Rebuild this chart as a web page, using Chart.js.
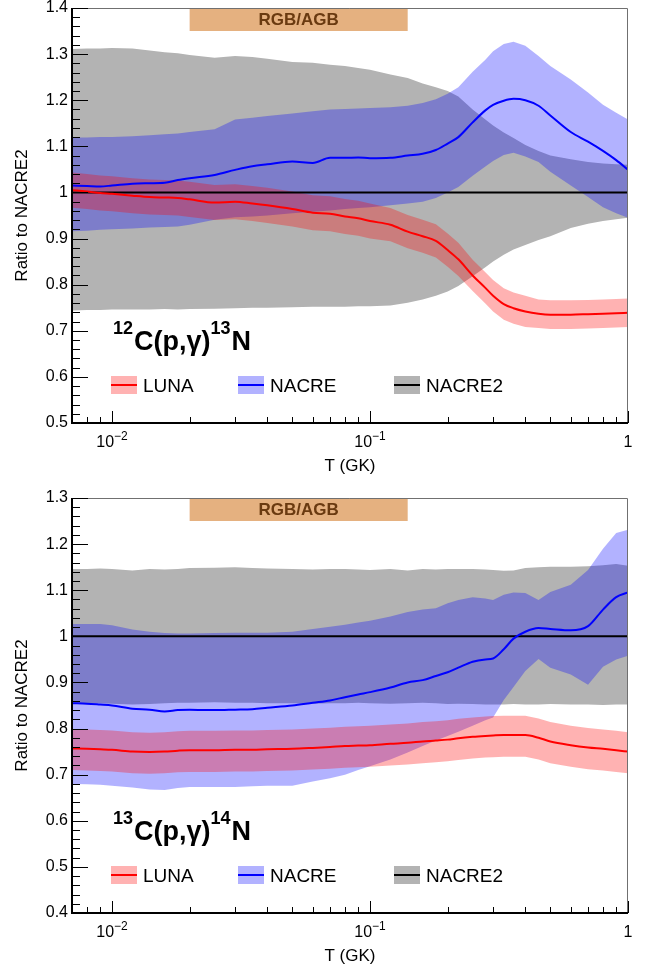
<!DOCTYPE html>
<html>
<head>
<meta charset="utf-8">
<script src="https://cdn.jsdelivr.net/npm/chart.js@4.4.1/dist/chart.umd.min.js"></script>
<style>
  html, body { margin: 0; padding: 0; background: #fff; }
  .panel { width: 646px; height: 484px; }
  canvas { display: block; }
</style>
</head>
<body>
<div class="panel"><canvas id="c12" width="646" height="484"></canvas></div>
<div class="panel"><canvas id="c13" width="646" height="484"></canvas></div>
<script>
// temperature grid (GK) shared by every band and curve
const temps = [0.007, 0.008, 0.009, 0.01, 0.012, 0.014, 0.016, 0.018, 0.02, 0.025,
  0.03, 0.035, 0.04, 0.05, 0.06, 0.07, 0.08, 0.09, 0.1, 0.12,
  0.14, 0.16, 0.18, 0.2, 0.22, 0.25, 0.28, 0.3, 0.33, 0.36,
  0.4, 0.45, 0.5, 0.6, 0.7, 0.8, 0.9, 1.0];

// 12C(p,g)13N  -- ratios to NACRE2
const c12LunaMid = [1.005, 1.002, 0.999, 0.997, 0.993, 0.990, 0.989, 0.988, 0.985, 0.978,
  0.980, 0.976, 0.972, 0.964, 0.956, 0.954, 0.948, 0.944, 0.938, 0.930,
  0.915, 0.905, 0.895, 0.875, 0.855, 0.820, 0.793, 0.776, 0.758, 0.749,
  0.742, 0.737, 0.735, 0.735, 0.736, 0.737, 0.738, 0.739];
const c12LunaHi = [1.043, 1.040, 1.037, 1.035, 1.031, 1.028, 1.027, 1.026, 1.023, 1.016,
  1.018, 1.014, 1.010, 1.002, 0.994, 0.992, 0.986, 0.982, 0.976, 0.966,
  0.951, 0.941, 0.931, 0.911, 0.891, 0.854, 0.827, 0.810, 0.792, 0.783,
  0.776, 0.768, 0.766, 0.766, 0.767, 0.768, 0.769, 0.770];
const c12LunaLo = [0.967, 0.964, 0.961, 0.959, 0.955, 0.952, 0.951, 0.950, 0.947, 0.940,
  0.942, 0.938, 0.934, 0.926, 0.918, 0.916, 0.910, 0.906, 0.900, 0.894,
  0.879, 0.869, 0.859, 0.839, 0.819, 0.786, 0.759, 0.742, 0.724, 0.715,
  0.708, 0.706, 0.704, 0.704, 0.705, 0.706, 0.707, 0.708];
const c12NacreMid = [1.015, 1.014, 1.013, 1.015, 1.019, 1.020, 1.021, 1.027, 1.031, 1.038,
  1.049, 1.057, 1.061, 1.067, 1.064, 1.075, 1.075, 1.076, 1.074, 1.075,
  1.080, 1.084, 1.092, 1.106, 1.120, 1.152, 1.178, 1.190, 1.199, 1.203,
  1.200, 1.188, 1.167, 1.131, 1.110, 1.090, 1.070, 1.049];
const c12NacreHi = [1.119, 1.119, 1.120, 1.120, 1.122, 1.124, 1.126, 1.128, 1.131, 1.137,
  1.158, 1.162, 1.166, 1.171, 1.176, 1.180, 1.181, 1.182, 1.183, 1.185,
  1.188, 1.194, 1.202, 1.214, 1.228, 1.262, 1.288, 1.306, 1.322, 1.327,
  1.318, 1.296, 1.274, 1.245, 1.217, 1.190, 1.173, 1.158];
const c12NacreLo = [0.916, 0.917, 0.919, 0.920, 0.922, 0.924, 0.925, 0.926, 0.930, 0.941,
  0.946, 0.948, 0.950, 0.955, 0.958, 0.961, 0.964, 0.966, 0.968, 0.972,
  0.976, 0.980, 0.988, 1.000, 1.012, 1.036, 1.056, 1.068, 1.081, 1.086,
  1.078, 1.066, 1.045, 1.015, 0.990, 0.968, 0.955, 0.945];
const c12Nacre2Hi = [1.311, 1.312, 1.312, 1.313, 1.312, 1.308, 1.304, 1.302, 1.298, 1.292,
  1.296, 1.294, 1.290, 1.283, 1.281, 1.277, 1.274, 1.270, 1.266, 1.256,
  1.248, 1.236, 1.228, 1.220, 1.208, 1.180, 1.158, 1.145, 1.130, 1.118,
  1.103, 1.090, 1.080, 1.072, 1.066, 1.063, 1.061, 1.060];
const c12Nacre2Lo = [0.744, 0.745, 0.745, 0.746, 0.746, 0.746, 0.747, 0.746, 0.747, 0.748,
  0.749, 0.750, 0.750, 0.751, 0.752, 0.752, 0.752, 0.753, 0.753, 0.755,
  0.761, 0.768, 0.776, 0.785, 0.797, 0.818, 0.838, 0.850, 0.865, 0.876,
  0.886, 0.897, 0.905, 0.923, 0.932, 0.938, 0.942, 0.945];

// 13C(p,g)14N  -- ratios to NACRE2
const c13LunaMid = [0.757, 0.756, 0.755, 0.754, 0.750, 0.749, 0.750, 0.752, 0.753, 0.753,
  0.754, 0.754, 0.755, 0.756, 0.758, 0.760, 0.762, 0.763, 0.764, 0.767,
  0.769, 0.772, 0.774, 0.776, 0.779, 0.782, 0.784, 0.785, 0.786, 0.786,
  0.786, 0.780, 0.772, 0.764, 0.759, 0.756, 0.753, 0.750];
const c13LunaHi = [0.799, 0.798, 0.797, 0.796, 0.792, 0.791, 0.792, 0.794, 0.795, 0.795,
  0.796, 0.796, 0.797, 0.798, 0.800, 0.802, 0.804, 0.805, 0.806, 0.809,
  0.811, 0.814, 0.816, 0.818, 0.821, 0.824, 0.826, 0.827, 0.828, 0.828,
  0.828, 0.822, 0.814, 0.806, 0.801, 0.798, 0.795, 0.792];
const c13LunaLo = [0.710, 0.709, 0.708, 0.707, 0.703, 0.702, 0.703, 0.705, 0.706, 0.706,
  0.707, 0.707, 0.708, 0.709, 0.711, 0.713, 0.715, 0.716, 0.717, 0.720,
  0.722, 0.725, 0.727, 0.729, 0.732, 0.735, 0.737, 0.738, 0.739, 0.739,
  0.739, 0.733, 0.725, 0.717, 0.712, 0.709, 0.706, 0.703];
const c13NacreMid = [0.855, 0.854, 0.852, 0.850, 0.843, 0.841, 0.837, 0.840, 0.841, 0.840,
  0.841, 0.842, 0.845, 0.850, 0.856, 0.861, 0.868, 0.874, 0.879, 0.889,
  0.900, 0.905, 0.914, 0.922, 0.932, 0.945, 0.950, 0.952, 0.972, 0.995,
  1.010, 1.018, 1.016, 1.013, 1.022, 1.058, 1.085, 1.095];
const c13NacreHi = [1.027, 1.027, 1.027, 1.024, 1.015, 1.010, 1.007, 1.006, 1.006, 1.007,
  1.008, 1.008, 1.008, 1.010, 1.016, 1.021, 1.025, 1.030, 1.034, 1.043,
  1.053, 1.058, 1.061, 1.072, 1.079, 1.085, 1.082, 1.079, 1.090, 1.095,
  1.094, 1.079, 1.096, 1.112, 1.144, 1.190, 1.224, 1.231];
const c13NacreLo = [0.680, 0.679, 0.678, 0.676, 0.672, 0.668, 0.667, 0.671, 0.673, 0.673,
  0.673, 0.675, 0.676, 0.676, 0.685, 0.692, 0.700, 0.710, 0.718, 0.733,
  0.748, 0.762, 0.774, 0.784, 0.793, 0.806, 0.818, 0.824, 0.862, 0.890,
  0.925, 0.951, 0.932, 0.917, 0.895, 0.934, 0.950, 0.958];
const c13Nacre2Hi = [1.146, 1.146, 1.147, 1.146, 1.143, 1.146, 1.145, 1.146, 1.148, 1.149,
  1.150, 1.148, 1.147, 1.146, 1.145, 1.146, 1.146, 1.145, 1.144, 1.146,
  1.143, 1.146, 1.145, 1.146, 1.146, 1.146, 1.145, 1.144, 1.142, 1.143,
  1.148, 1.150, 1.151, 1.151, 1.152, 1.154, 1.157, 1.153];
const c13Nacre2Lo = [0.855, 0.855, 0.855, 0.854, 0.852, 0.853, 0.855, 0.856, 0.856, 0.857,
  0.856, 0.856, 0.855, 0.855, 0.854, 0.855, 0.855, 0.856, 0.855, 0.854,
  0.855, 0.856, 0.855, 0.853, 0.854, 0.853, 0.852, 0.852, 0.852, 0.853,
  0.852, 0.852, 0.853, 0.852, 0.852, 0.851, 0.852, 0.852];

// NACRE2 reference line (ratio of NACRE2 to itself)
const nacre2T = [0.007, 1.0];
const nacre2Ratio = [1, 1];

// RGB/AGB temperature window (GK)
const rgbAgbRange = [0.02, 0.14];

// axis labels: base and exponent of the major log ticks
const xMajor = [0.01, 0.1, 1];
const xLabelBase = ['10', '10', '1'];
const xLabelExp = ['\u22122', '\u22121', ''];
const legendNames = ['LUNA', 'NACRE', 'NACRE2'];

Chart.defaults.font.family = '"Liberation Sans", Arial, Helvetica, sans-serif';
Chart.defaults.color = '#000';

const FONT = '"Liberation Sans", Arial, Helvetica, sans-serif';
const BAND = ['rgba(255,0,0,0.3)', 'rgba(0,0,255,0.3)', '#b3b3b3'];
const LINE = ['#ff0000', '#0000ff', '#000000'];

function pts(vals) {
  return temps.map((t, i) => ({ x: t, y: vals[i] }));
}

function edge(vals, order, fill, bg) {
  return {
    data: pts(vals), borderColor: 'transparent', borderWidth: 0, pointRadius: 0,
    fill: fill, backgroundColor: bg || 'transparent', order: order, tension: 0
  };
}

function curve(data, color, order) {
  return {
    data: data, borderColor: color, borderWidth: 2, pointRadius: 0, fill: false,
    order: order, cubicInterpolationMode: 'monotone'
  };
}

// ROOT-style decorations: frame, inner ticks, log labels, RGB/AGB tag, legend, reaction label
const rootDecor = {
  id: 'rootDecor',
  afterDraw(chart, args, opts) {
    const { ctx, chartArea: a, scales: { x, y } } = chart;
    ctx.save();

    // RGB/AGB window
    const x0 = x.getPixelForValue(rgbAgbRange[0]);
    const x1 = x.getPixelForValue(rgbAgbRange[1]);
    ctx.fillStyle = '#e5b180';
    ctx.fillRect(x0, a.top, x1 - x0, 23);
    ctx.fillStyle = '#6a3a10';
    ctx.font = 'bold 17px ' + FONT;
    ctx.textAlign = 'center';
    ctx.textBaseline = 'middle';
    ctx.fillText('RGB/AGB', (x0 + x1) / 2, a.top + 12);

    // frame
    ctx.strokeStyle = '#707070';
    ctx.lineWidth = 1;
    ctx.beginPath();
    ctx.moveTo(a.left, a.top + 0.5);
    ctx.lineTo(a.right - 0.5, a.top + 0.5);
    ctx.lineTo(a.right - 0.5, a.bottom);
    ctx.stroke();

    ctx.strokeStyle = '#000';
    ctx.lineWidth = 2;
    ctx.beginPath();
    ctx.moveTo(a.left, a.top);
    ctx.lineTo(a.left, a.bottom);
    ctx.lineTo(a.right, a.bottom);
    ctx.stroke();

    // y ticks (major 0.1, minor 0.02)
    ctx.lineWidth = 1;
    ctx.beginPath();
    for (let k = 0; ; k++) {
      const v = y.min + k * 0.02;
      if (v > y.max + 1e-9) break;
      const py = Math.round(y.getPixelForValue(v)) + 0.5;
      const len = k % 5 === 0 ? 16 : 8;
      ctx.moveTo(a.left, py);
      ctx.lineTo(a.left + len, py);
    }
    // x ticks (log decades)
    for (let d = -3; d <= 0; d++) {
      for (let m = 1; m <= 9; m++) {
        const v = m * Math.pow(10, d);
        if (v < x.min * 1.0001 || v > x.max * 1.0001) continue;
        const px = Math.round(x.getPixelForValue(v)) + 0.5;
        const len = m === 1 ? 12 : 6;
        ctx.moveTo(px, a.bottom);
        ctx.lineTo(px, a.bottom - len);
      }
    }
    ctx.stroke();

    // x tick labels with superscript exponents
    ctx.fillStyle = '#000';
    ctx.textAlign = 'left';
    ctx.textBaseline = 'alphabetic';
    xMajor.forEach((v, i) => {
      ctx.font = '16px ' + FONT;
      const wb = ctx.measureText(xLabelBase[i]).width;
      ctx.font = '12px ' + FONT;
      const we = xLabelExp[i] ? ctx.measureText(xLabelExp[i]).width : 0;
      const px = x.getPixelForValue(v);
      const sx = px - (wb + we) / 2;
      ctx.font = '16px ' + FONT;
      ctx.fillText(xLabelBase[i], sx, a.bottom + 24);
      if (xLabelExp[i]) {
        ctx.font = '12px ' + FONT;
        ctx.fillText(xLabelExp[i], sx + wb, a.bottom + 17);
      }
    });

    // legend
    const lx = [a.left + 39, a.left + 166, a.left + 322];
    const ly = a.bottom - 47;
    ctx.font = '19px ' + FONT;
    legendNames.forEach((name, i) => {
      ctx.fillStyle = BAND[i];
      ctx.fillRect(lx[i], ly, 26, 18);
      ctx.strokeStyle = LINE[i];
      ctx.lineWidth = 2;
      ctx.beginPath();
      ctx.moveTo(lx[i], ly + 9);
      ctx.lineTo(lx[i] + 26, ly + 9);
      ctx.stroke();
      ctx.fillStyle = '#000';
      ctx.fillText(name, lx[i] + 32, a.bottom - 31.5);
    });

    // reaction label
    let cx = a.left + 41;
    const base = a.bottom - 73;
    (opts.reaction || []).forEach(seg => {
      ctx.font = seg.sup ? 'bold 18px ' + FONT : 'bold 27px ' + FONT;
      ctx.fillText(seg.t, cx, seg.sup ? base - 16 : base);
      cx += ctx.measureText(seg.t).width + (seg.sup ? 1 : 0);
    });

    ctx.restore();
  }
};

function makeChart(id, s, yMin, yMax, padTop, axisH, titlePad, reaction) {
  const datasets = [
    edge(s.lunaLo, 3, false),
    edge(s.lunaHi, 3, 0, BAND[0]),
    edge(s.nacreLo, 4, false),
    edge(s.nacreHi, 4, 2, BAND[1]),
    edge(s.nacre2Lo, 5, false),
    edge(s.nacre2Hi, 5, 4, BAND[2]),
    curve(pts(s.lunaMid), LINE[0], 0),
    curve(pts(s.nacreMid), LINE[1], 1),
    curve(nacre2T.map((t, i) => ({ x: t, y: nacre2Ratio[i] })), LINE[2], 2)
  ];
  return new Chart(document.getElementById(id), {
    type: 'line',
    data: { datasets: datasets },
    options: {
      responsive: false,
      animation: false,
      devicePixelRatio: 1,
      layout: { padding: { left: 0, right: 18, top: padTop, bottom: 0 } },
      plugins: {
        legend: { display: false },
        tooltip: { enabled: false },
        rootDecor: { reaction: reaction }
      },
      scales: {
        x: {
          type: 'logarithmic',
          min: 0.007,
          max: 1,
          grid: { display: false, drawTicks: false },
          border: { display: false },
          afterBuildTicks: sc => { sc.ticks = xMajor.map(v => ({ value: v })); },
          afterFit: sc => { sc.height = axisH; sc.paddingLeft = 0; sc.paddingRight = 0; },
          ticks: { display: false },
          title: {
            display: true, text: 'T (GK)', color: '#000', font: { size: 17 },
            padding: { top: 0, bottom: titlePad }
          }
        },
        y: {
          min: yMin,
          max: yMax,
          grid: { display: false, drawTicks: false },
          border: { display: false },
          afterFit: sc => { sc.width = 72; sc.paddingTop = 0; sc.paddingBottom = 0; },
          ticks: {
            stepSize: 0.1, padding: 4, color: '#000', font: { size: 16 },
            callback: v => String(Math.round(v * 10) / 10)
          },
          title: {
            display: true, text: 'Ratio to NACRE2', color: '#000', font: { size: 17 },
            padding: { top: 12, bottom: 0 }
          }
        }
      }
    },
    plugins: [rootDecor]
  });
}

makeChart('c12', {
  lunaMid: c12LunaMid, lunaHi: c12LunaHi, lunaLo: c12LunaLo,
  nacreMid: c12NacreMid, nacreHi: c12NacreHi, nacreLo: c12NacreLo,
  nacre2Hi: c12Nacre2Hi, nacre2Lo: c12Nacre2Lo
}, 0.5, 1.4, 8, 61, 7,
  [{ t: '12', sup: true }, { t: 'C(p,\u03B3)' }, { t: '13', sup: true }, { t: 'N' }]);

makeChart('c13', {
  lunaMid: c13LunaMid, lunaHi: c13LunaHi, lunaLo: c13LunaLo,
  nacreMid: c13NacreMid, nacreHi: c13NacreHi, nacreLo: c13NacreLo,
  nacre2Hi: c13Nacre2Hi, nacre2Lo: c13Nacre2Lo
}, 0.4, 1.3, 14, 55, 1,
  [{ t: '13', sup: true }, { t: 'C(p,\u03B3)' }, { t: '14', sup: true }, { t: 'N' }]);
</script>
</body>
</html>
